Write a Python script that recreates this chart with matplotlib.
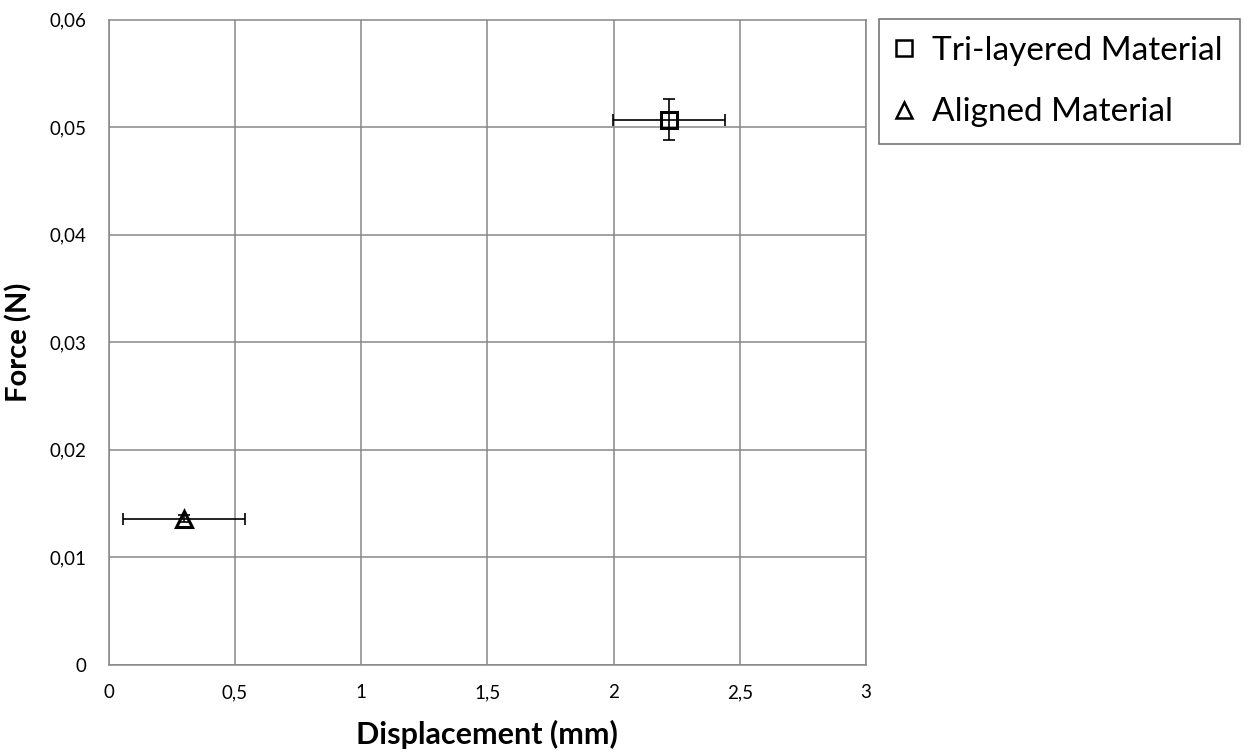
import matplotlib
matplotlib.use("Agg")
import matplotlib.pyplot as plt
from matplotlib.ticker import FuncFormatter, MultipleLocator

plt.rcParams['font.family'] = ['Lato', 'DejaVu Sans']

series_names = ["Tri-layered Material", "Aligned Material"]
disp_mean = [2.219, 0.299]
disp_err = [0.222, 0.243]
force_mean = [0.0507, 0.0136]
force_err = [0.0019, 0.0003]
markers = ["s", "^"]

fig = plt.figure(figsize=(12.44, 7.53), dpi=100)
ax = fig.add_axes([108.5/1244, 1-665/753, (866-108.5)/1244, (665-19.5)/753])

handles = []
for name, x, xe, y, ye, m in zip(series_names, disp_mean, disp_err, force_mean, force_err, markers):
    ax.errorbar(x, y, xerr=xe, yerr=ye, fmt='none', ecolor='black', elinewidth=1.2, capsize=4, capthick=1.2, zorder=3)
    ax.plot(x, y, marker=m, markersize=12 if m == 's' else 11, mfc='none', mec='black', mew=2.2, ls='none', zorder=4)
    h, = ax.plot([], [], marker=m, markersize=11, mfc='none', mec='black', mew=1.8, ls='none', label=name)
    handles.append(h)

ax.set_xlim(0, 3)
ax.set_ylim(0, 0.06)
ax.xaxis.set_major_locator(MultipleLocator(0.5))
ax.yaxis.set_major_locator(MultipleLocator(0.01))
fmt = lambda v, p: ('%g' % round(v, 4)).replace('.', ',')
ax.xaxis.set_major_formatter(FuncFormatter(fmt))
ax.yaxis.set_major_formatter(FuncFormatter(lambda v, p: '0' if abs(v) < 1e-9 else ('%.2f' % v).replace('.', ',')))
ax.grid(True, color='#878787', lw=1.1)
ax.set_axisbelow(True)
for s in ax.spines.values():
    s.set_color('#878787')
    s.set_linewidth(1.1)
ax.tick_params(length=0, labelsize=13.5)
ax.tick_params(axis='x', pad=14)
ax.tick_params(axis='y', pad=16)
ax.set_xlabel("Displacement (mm)", fontsize=22, fontweight='bold', labelpad=13)
ax.set_ylabel("Force (N)", fontsize=21, fontweight='bold', labelpad=12)

leg = fig.legend(handles=handles, loc='upper left', bbox_to_anchor=(879/1244, 1-19/753),
                 fontsize=24, frameon=True, fancybox=False, edgecolor='#555555',
                 handlelength=0.5, handletextpad=0.6, borderpad=0.5, labelspacing=0.95,
                 borderaxespad=0)
leg.get_frame().set_linewidth(1.2)

fig.savefig("out.png", dpi=100)
